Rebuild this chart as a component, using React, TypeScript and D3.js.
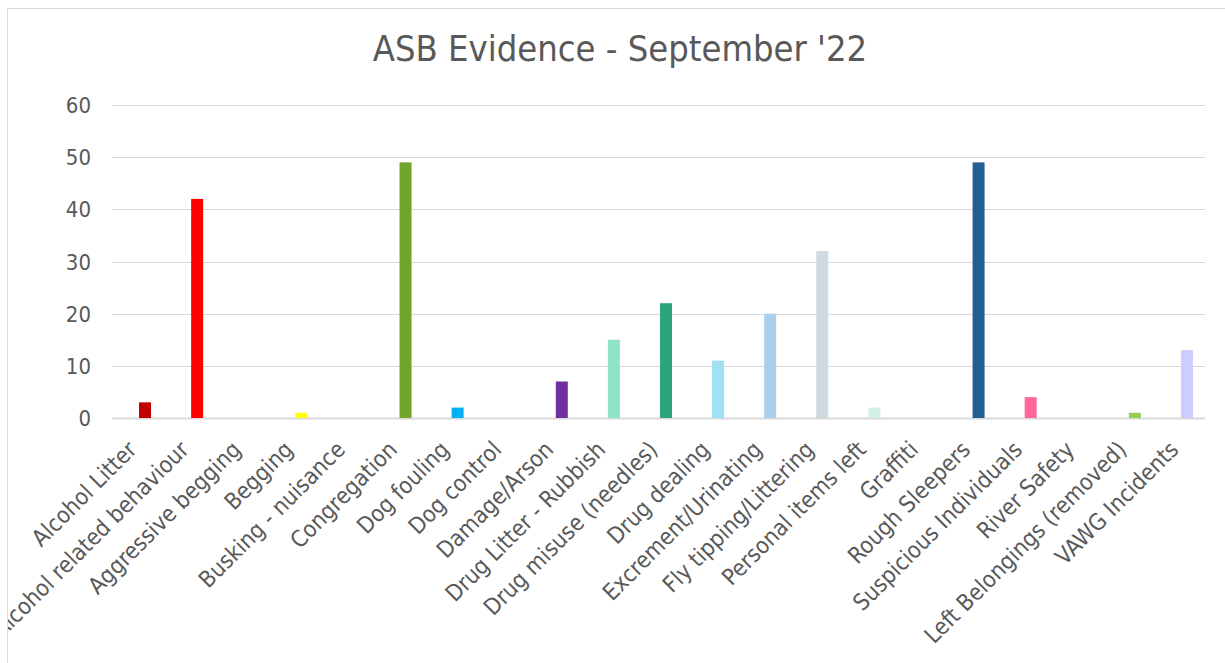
import React, { useRef, useEffect } from 'react';
import * as d3 from 'd3';

const categories = [
  'Alcohol Litter', 'Alcohol related behaviour', 'Aggressive begging', 'Begging',
  'Busking - nuisance', 'Congregation', 'Dog fouling', 'Dog control', 'Damage/Arson',
  'Drug Litter - Rubbish', 'Drug misuse (needles)', 'Drug dealing', 'Excrement/Urinating',
  'Fly tipping/Littering', 'Personal items left', 'Graffiti', 'Rough Sleepers',
  'Suspicious Individuals', 'River Safety', 'Left Belongings (removed)', 'VAWG Incidents',
];
const values = [3, 42, 0, 1, 0, 49, 2, 0, 7, 15, 22, 11, 20, 32, 2, 0, 49, 4, 0, 1, 13];
const colors = [
  '#C00000', '#FF0000', '#FFC000', '#FFFF00', '#999999', '#72A52B', '#00B0F0', '#999999',
  '#7030A0', '#8FE3C8', '#2AA57E', '#A0E0F5', '#A9CFEC', '#CFDAE0', '#D1F0E3', '#999999',
  '#245F92', '#FF6699', '#999999', '#92D050', '#CCCCFF',
];
const yTicks = [0, 10, 20, 30, 40, 50, 60];

const W = 1225;
const H = 663;
const FONT = '"DejaVu Sans Condensed", "DejaVu Sans", sans-serif';

const App = () => {
  const svgRef = useRef<SVGSVGElement>(null);

  useEffect(() => {
    const svg = d3.select(svgRef.current);
    svg.selectAll('*').remove();

    const x = d3.scaleBand().domain(categories).range([119, 1213]);
    const y = d3.scaleLinear().domain([0, 60]).range([418, 105]);

    // chart frame
    svg.append('rect')
      .attr('x', 7.5).attr('y', 8.5)
      .attr('width', W).attr('height', H)
      .attr('fill', '#fff').attr('stroke', '#d9d9d9');

    svg.append('text')
      .attr('x', 620).attr('y', 61)
      .attr('text-anchor', 'middle')
      .attr('font-family', FONT).attr('font-stretch', 'condensed').attr('font-size', 36)
      .attr('fill', '#595959')
      .text("ASB Evidence - September '22");

    const grid = svg.append('g');
    grid.selectAll('line')
      .data(yTicks)
      .join('line')
        .attr('x1', 112).attr('x2', 1205)
        .attr('y1', d => Math.round(y(d)) + 0.5)
        .attr('y2', d => Math.round(y(d)) + 0.5)
        .attr('stroke', '#d9d9d9')
        .attr('stroke-width', d => d === 0 ? 2 : 1);

    grid.selectAll('text')
      .data(yTicks)
      .join('text')
        .attr('x', 91).attr('y', d => y(d) + 8)
        .attr('text-anchor', 'end')
        .attr('font-family', FONT).attr('font-stretch', 'condensed').attr('font-size', 22)
        .attr('fill', '#595959')
        .text(d => d);

    const bw = 12;
    svg.append('g')
      .selectAll('rect')
      .data(values)
      .join('rect')
        .attr('x', (d, i) => x(categories[i])! + x.bandwidth() / 2 - bw / 2)
        .attr('y', d => y(d))
        .attr('width', bw)
        .attr('height', d => y(0) - y(d))
        .attr('fill', (d, i) => colors[i]);

    const clip = svg.append('clipPath').attr('id', 'frame');
    clip.append('rect').attr('x', 8).attr('y', 9).attr('width', W).attr('height', H);

    svg.append('g')
      .attr('clip-path', 'url(#frame)')
      .selectAll('text')
      .data(categories)
      .join('text')
        .attr('transform', d => `translate(${x(d)! + x.bandwidth() / 2 - 7},${451}) rotate(-45)`)
        .attr('text-anchor', 'end')
        .attr('font-family', FONT).attr('font-stretch', 'condensed').attr('font-size', 23)
        .attr('fill', '#595959')
        .text(d => d);
  }, []);

  return (
    <svg ref={svgRef} width={W} height={H}
      style={{ position: 'absolute', left: 0, top: 0 }}>
    </svg>
  );
};

export default App;
